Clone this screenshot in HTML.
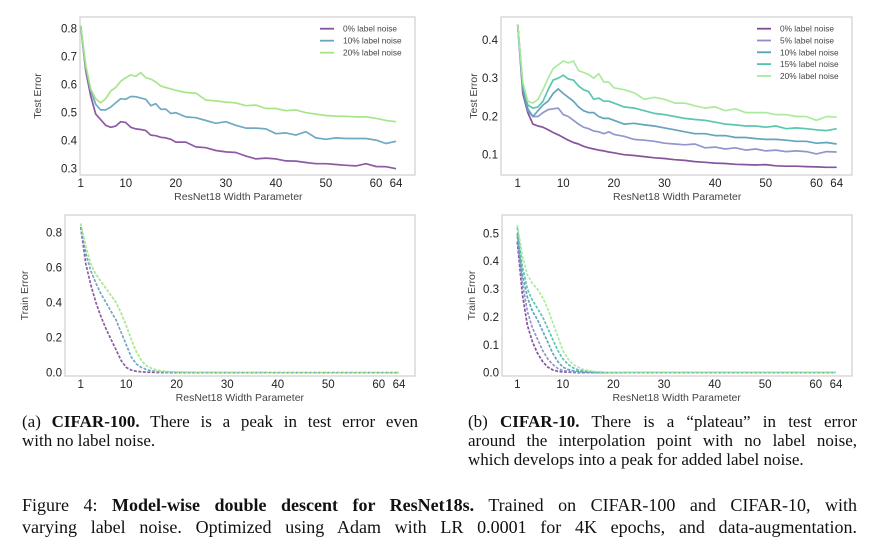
<!DOCTYPE html>
<html><head><meta charset="utf-8"><style>
body{margin:0;background:#fff;width:877px;height:553px;overflow:hidden;position:relative;font-family:"Liberation Serif",serif;}
svg{position:absolute;left:0;top:0}
.cap{position:absolute;font-size:17px;color:#111;line-height:19px;white-space:nowrap}
.j{text-align:justify;text-align-last:justify}
</style></head><body>
<svg id="fig" width="877" height="553"></svg>
<div class="cap" style="left:22px;top:412px;width:396px">
<div class="j">(a) <b>CIFAR-100.</b> There is a peak in test error even</div><div>with no label noise.</div></div>
<div class="cap" style="left:468px;top:412px;width:389px">
<div class="j">(b) <b>CIFAR-10.</b> There is a “plateau” in test error</div>
<div class="j">around the interpolation point with no label noise,</div>
<div>which develops into a peak for added label noise.</div></div>
<div class="cap" style="left:22px;top:494px;width:835px;font-size:18px;line-height:22px">
<div class="j">Figure 4: <b>Model-wise double descent for ResNet18s.</b> Trained on CIFAR-100 and CIFAR-10, with</div>
<div class="j">varying label noise. Optimized using Adam with LR 0.0001 for 4K epochs, and data-augmentation.</div></div>
<script>
const widths=[1,2,3,4,5,6,7,8,9,10,11,12,13,14,15,16,17,18,19,20,22,24,26,28,30,32,34,36,38,40,42,44,46,48,50,52,54,56,58,60,62,64];
const trainWidths=[1,2,3,4,5,6,7,8,9,10,11,12,13,14,15,16,17,18,19,20,24,30,40,50,64];
const xTicks=[1,10,20,30,40,50,60,64];
const c100Labels=["0% label noise","10% label noise","20% label noise"];
const c10Labels=["0% label noise","5% label noise","10% label noise","15% label noise","20% label noise"];
const c100Test0=[0.81,0.65,0.56,0.495,0.475,0.455,0.448,0.452,0.468,0.465,0.448,0.442,0.44,0.436,0.42,0.418,0.412,0.41,0.405,0.395,0.395,0.378,0.375,0.365,0.36,0.358,0.345,0.335,0.338,0.335,0.328,0.327,0.322,0.318,0.318,0.315,0.312,0.31,0.318,0.308,0.307,0.3];
const c100Test10=[0.81,0.66,0.58,0.53,0.51,0.51,0.52,0.535,0.55,0.548,0.558,0.557,0.552,0.548,0.525,0.532,0.512,0.513,0.497,0.5,0.485,0.482,0.472,0.462,0.468,0.455,0.445,0.445,0.442,0.425,0.428,0.42,0.432,0.41,0.405,0.41,0.408,0.408,0.408,0.402,0.39,0.398];
const c100Test20=[0.81,0.67,0.585,0.55,0.535,0.55,0.578,0.59,0.612,0.625,0.635,0.63,0.643,0.625,0.62,0.61,0.595,0.59,0.585,0.58,0.572,0.57,0.545,0.542,0.538,0.535,0.525,0.527,0.515,0.515,0.507,0.51,0.5,0.495,0.49,0.488,0.487,0.485,0.485,0.48,0.472,0.468];
const c10Test0=[0.44,0.26,0.21,0.18,0.175,0.172,0.165,0.158,0.152,0.145,0.138,0.132,0.128,0.122,0.118,0.115,0.112,0.11,0.107,0.105,0.1,0.098,0.095,0.092,0.09,0.087,0.085,0.082,0.08,0.078,0.077,0.075,0.074,0.073,0.074,0.071,0.07,0.07,0.069,0.068,0.067,0.067];
const c10Test5=[0.44,0.27,0.215,0.2,0.2,0.21,0.218,0.22,0.222,0.205,0.2,0.19,0.18,0.172,0.168,0.162,0.16,0.155,0.16,0.153,0.148,0.14,0.138,0.135,0.13,0.128,0.126,0.128,0.118,0.12,0.115,0.118,0.112,0.115,0.11,0.112,0.108,0.11,0.108,0.102,0.108,0.107];
const c10Test10=[0.44,0.28,0.22,0.2,0.215,0.23,0.24,0.26,0.272,0.26,0.25,0.24,0.225,0.215,0.21,0.21,0.2,0.195,0.195,0.19,0.18,0.182,0.178,0.175,0.17,0.165,0.16,0.155,0.155,0.15,0.15,0.145,0.145,0.142,0.14,0.14,0.138,0.135,0.135,0.13,0.132,0.128];
const c10Test15=[0.44,0.28,0.23,0.222,0.225,0.24,0.27,0.295,0.3,0.308,0.298,0.295,0.28,0.27,0.265,0.245,0.248,0.24,0.24,0.235,0.225,0.222,0.215,0.208,0.205,0.2,0.195,0.192,0.19,0.185,0.18,0.178,0.175,0.175,0.172,0.175,0.168,0.17,0.168,0.165,0.163,0.168];
const c10Test20=[0.44,0.29,0.24,0.235,0.245,0.27,0.3,0.325,0.335,0.345,0.34,0.345,0.32,0.315,0.31,0.3,0.312,0.29,0.29,0.275,0.27,0.262,0.245,0.25,0.245,0.235,0.235,0.228,0.222,0.225,0.215,0.22,0.21,0.21,0.21,0.205,0.205,0.2,0.2,0.19,0.2,0.198];
const c100Train0=[0.83,0.62,0.5,0.4,0.32,0.25,0.19,0.13,0.07,0.03,0.015,0.008,0.005,0.003,0.002,0.001,0.001,0.001,0,0,0,0,0,0,0];
const c100Train10=[0.83,0.68,0.58,0.51,0.45,0.4,0.35,0.3,0.23,0.16,0.09,0.05,0.03,0.018,0.01,0.006,0.004,0.003,0.002,0.001,0,0,0,0,0];
const c100Train20=[0.85,0.72,0.62,0.56,0.52,0.48,0.44,0.4,0.34,0.27,0.19,0.12,0.07,0.04,0.025,0.015,0.01,0.007,0.005,0.004,0.002,0.001,0,0,0];
const c10Train0=[0.47,0.28,0.17,0.11,0.07,0.04,0.02,0.01,0.005,0.003,0.002,0.001,0,0,0,0,0,0,0,0,0,0,0,0,0];
const c10Train5=[0.49,0.32,0.22,0.16,0.12,0.08,0.05,0.03,0.015,0.008,0.005,0.003,0.002,0.001,0,0,0,0,0,0,0,0,0,0,0];
const c10Train10=[0.5,0.35,0.27,0.22,0.19,0.15,0.11,0.07,0.04,0.02,0.012,0.007,0.005,0.003,0.002,0.001,0,0,0,0,0,0,0,0,0];
const c10Train15=[0.52,0.38,0.3,0.26,0.23,0.2,0.16,0.12,0.08,0.05,0.03,0.018,0.01,0.007,0.005,0.003,0.002,0.001,0,0,0,0,0,0,0];
const c10Train20=[0.53,0.42,0.35,0.32,0.3,0.27,0.23,0.18,0.13,0.08,0.05,0.03,0.02,0.012,0.008,0.005,0.003,0.002,0.001,0.001,0,0,0,0,0];
const col3=["#87519f","#67a5c0","#a3e586"];
const col5=["#7e4b98","#8c8fcb","#5b9fba","#52c3aa","#a8e99a"];

const NS="http://www.w3.org/2000/svg";
const svg=document.getElementById('fig');
function mk(tag,attrs,parent){const e=document.createElementNS(NS,tag);for(const k in attrs)e.setAttribute(k,attrs[k]);(parent||svg).appendChild(e);return e;}

function chart(cfg){
  const g=mk('g',{});
  
  
  const fr=mk('rect',{x:cfg.fx0,y:cfg.fy0,width:cfg.fx1-cfg.fx0,height:cfg.fy1-cfg.fy0,fill:'none',stroke:'#cfcfcf','stroke-width':1.2},g);
  
  
  const X=v=>cfg.x1px+(v-1)*(cfg.x64px-cfg.x1px)/63;
  const Y=v=>cfg.y0px+(v-cfg.y0v)*(cfg.y1px-cfg.y0px)/(cfg.y1v-cfg.y0v);
  xTicks.forEach(t=>{
    const tx=mk('text',{x:X(t),y:cfg.fy1+12,'text-anchor':'middle','font-size':11.5,fill:'#222','font-family':'Liberation Sans, sans-serif'},g);
    tx.textContent=t;
    
    
  });
  cfg.yTicks.forEach(t=>{
    const ty=mk('text',{x:cfg.fx0-3,y:Y(t)+4,'text-anchor':'end','font-size':11.5,fill:'#222','font-family':'Liberation Sans, sans-serif'},g);
    ty.textContent=t.toFixed(1);
    
    
  });
  const xl=mk('text',{x:(cfg.x1px+cfg.x64px)/2,y:cfg.fy1+25,'text-anchor':'middle','font-size':10.5,fill:'#444','font-family':'Liberation Sans, sans-serif'},g);
  xl.textContent='ResNet18 Width Parameter';
  
  
  const yx=cfg.ylx, yy=(cfg.fy0+cfg.fy1)/2;
  const yl=mk('text',{x:yx,y:yy,'text-anchor':'middle','font-size':10.5,fill:'#444','font-family':'Liberation Sans, sans-serif',transform:`rotate(-90 ${yx} ${yy})`},g);
  yl.textContent=cfg.ylabel;
  
  
  cfg.series.forEach((s,i)=>{
    const d=s.map((v,k)=>(k?'L':'M')+X(cfg.xs[k]).toFixed(1)+' '+Y(v).toFixed(1)).join(' ');
    const p=mk('path',{d:d,fill:'none',stroke:cfg.colors[i],'stroke-width':1.7,'stroke-linejoin':'round','stroke-dasharray':cfg.dash?'3 1.5':'none',opacity:0.95},g);
    
    
  });
  if(cfg.legend){
    cfg.legend.forEach((lab,i)=>{
      const ly=cfg.ly0+i*cfg.lstep;
      const ln=mk('line',{x1:cfg.lx,y1:ly,x2:cfg.lx+14,y2:ly,stroke:cfg.colors[i],'stroke-width':1.8},g);
      
      
      const lt=mk('text',{x:cfg.lx+23,y:ly+3,'font-size':8.3,fill:'#444','font-family':'Liberation Sans, sans-serif'},g);
      lt.textContent=lab;
      
      
    });
  }
}
chart({name:'cifar100-test-chart',fx0:80,fx1:415,fy0:17,fy1:175,x1px:80.7,x64px:396,y0v:0.3,y0px:168.7,y1v:0.8,y1px:28.7,yTicks:[0.3,0.4,0.5,0.6,0.7,0.8],ylabel:'Test Error',ylx:41,xs:widths,series:[c100Test0,c100Test10,c100Test20],colors:col3,legend:c100Labels,lx:320,ly0:28.7,lstep:12});
chart({name:'cifar10-test-chart',fx0:501,fx1:852,fy0:17,fy1:175,x1px:517.7,x64px:836.7,y0v:0.1,y0px:154.7,y1v:0.4,y1px:40,yTicks:[0.1,0.2,0.3,0.4],ylabel:'Test Error',ylx:477,xs:widths,series:[c10Test0,c10Test5,c10Test10,c10Test15,c10Test20],colors:col5,legend:c10Labels,lx:757,ly0:28.7,lstep:11.8});
chart({name:'cifar100-train-chart',fx0:65,fx1:415,fy0:215,fy1:376,x1px:80.7,x64px:399,y0v:0,y0px:372.7,y1v:0.8,y1px:232.3,yTicks:[0,0.2,0.4,0.6,0.8],ylabel:'Train Error',ylx:28,xs:trainWidths,series:[c100Train0,c100Train10,c100Train20],colors:col3,dash:true});
chart({name:'cifar10-train-chart',fx0:502,fx1:852,fy0:215,fy1:376,x1px:517.3,x64px:836,y0v:0,y0px:372.7,y1v:0.5,y1px:233.3,yTicks:[0,0.1,0.2,0.3,0.4,0.5],ylabel:'Train Error',ylx:475,xs:trainWidths,series:[c10Train0,c10Train5,c10Train10,c10Train15,c10Train20],colors:col5,dash:true});
</script>
</body></html>
